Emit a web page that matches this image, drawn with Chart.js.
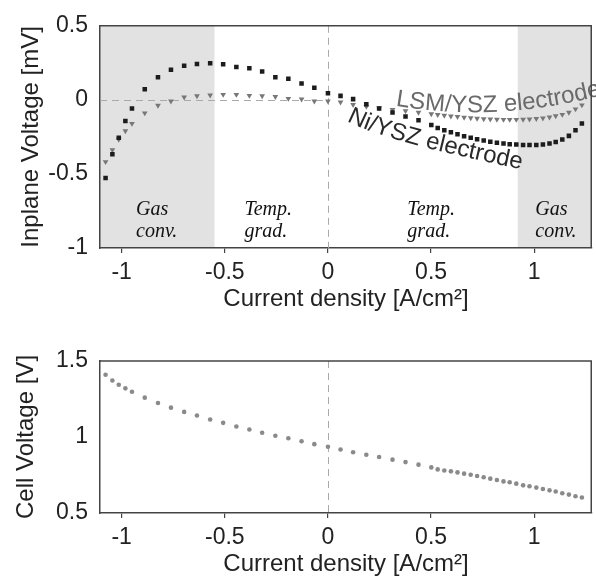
<!DOCTYPE html>
<html>
<head>
<meta charset="utf-8">
<script src="https://cdn.jsdelivr.net/npm/chart.js@4"></script>
<style>
  html, body { margin: 0; padding: 0; background: #fff; }
  #wrap { position: relative; width: 596px; height: 576px; }
  #inplane { position: absolute; left: 0; top: 0; }
  #cell { position: absolute; left: 0; top: 320px; }
</style>
</head>
<body>
<div id="wrap">
  <canvas id="inplane" width="596" height="320"></canvas>
  <canvas id="cell" width="596" height="256"></canvas>
</div>
<script>
// current density of each measured point [A/cm2]
const current = [
  -1.078, -1.045, -1.014, -0.982, -0.950, -0.888, -0.824, -0.761, -0.697, -0.635,
  -0.571, -0.508, -0.444, -0.381, -0.319, -0.255, -0.192, -0.128, -0.066, 0,
  0.061, 0.122, 0.186, 0.248, 0.313, 0.376, 0.439, 0.501,
  0.532, 0.564, 0.596, 0.628, 0.660, 0.692, 0.723, 0.755, 0.787, 0.819,
  0.851, 0.881, 0.913, 0.946, 0.977, 1.010, 1.042, 1.074, 1.104, 1.136,
  1.168, 1.200, 1.231
];

// inplane voltage, Ni/YSZ electrode [mV]
const niVoltage = [
  -0.527, -0.367, -0.256, -0.142, -0.058, 0.071, 0.153, 0.204, 0.231, 0.242,
  0.247, 0.240, 0.222, 0.213, 0.191, 0.153, 0.142, 0.111, 0.082, 0.045,
  0.027, 0.005, -0.030, -0.058, -0.085, -0.112, -0.138, -0.170,
  -0.190, -0.205, -0.218, -0.232, -0.245, -0.256, -0.266, -0.275, -0.283, -0.289,
  -0.295, -0.299, -0.302, -0.304, -0.305, -0.304, -0.301, -0.295, -0.285, -0.268,
  -0.243, -0.205, -0.160
];

// inplane voltage, LSM/YSZ electrode [mV]
const lsmVoltage = [
  -0.418, -0.338, -0.267, -0.209, -0.160, -0.089, -0.038, -0.009, 0.018, 0.027,
  0.031, 0.036, 0.036, 0.029, 0.027, 0.022, 0.009, 0.004, -0.009, -0.009,
  -0.016, -0.032, -0.045, -0.055, -0.066, -0.075, -0.085, -0.095,
  -0.100, -0.105, -0.110, -0.114, -0.118, -0.122, -0.125, -0.128, -0.130, -0.132,
  -0.133, -0.133, -0.133, -0.132, -0.130, -0.127, -0.123, -0.117, -0.109, -0.099,
  -0.085, -0.062, -0.035
];

// cell voltage [V]
const cellVoltage = [
  1.410, 1.372, 1.344, 1.320, 1.298, 1.259, 1.224, 1.193, 1.165, 1.141,
  1.115, 1.093, 1.069, 1.049, 1.028, 1.008, 0.992, 0.972, 0.953, 0.936,
  0.918, 0.900, 0.883, 0.868, 0.851, 0.835, 0.818, 0.800,
  0.787, 0.780, 0.774, 0.767, 0.759, 0.752, 0.743, 0.735, 0.726, 0.717,
  0.708, 0.702, 0.693, 0.682, 0.676, 0.667, 0.658, 0.649, 0.641, 0.630,
  0.621, 0.610, 0.602
];

const xTicks = [-1, -0.5, 0, 0.5, 1];
const inplaneTicks = [-1, -0.5, 0, 0.5];
const cellTicks = [0.5, 1, 1.5];

// gas conversion regions (shaded)
const gasBands = [[-1.105, -0.55], [0.92, 1.28]];
const regionNotes = [
  { lines: ['Gas', 'conv.'], x: -0.93 },
  { lines: ['Temp.', 'grad.'], x: -0.405 },
  { lines: ['Temp.', 'grad.'], x: 0.385 },
  { lines: ['Gas', 'conv.'], x: 1.005 },
];
const noteBaselines = [-0.78, -0.925];

// curve labels, quadratic path given as [start, control, end] in data units
const electrodeLabels = [
  { text: 'LSM/YSZ electrode', color: '#6a6a6a', path: [[0.327, -0.04], [0.817, -0.153], [1.317, 0.027]] },
  { text: 'Ni/YSZ electrode', color: '#2a2a2a', path: [[0.091, -0.14], [0.245, -0.267], [0.933, -0.467]] },
];

const FONT = '"Liberation Sans", Arial, sans-serif';
Chart.defaults.font.family = FONT;
Chart.defaults.color = '#222';

const pairs = (ys) => current.map((x, i) => ({ x, y: ys[i] }));
const fmt = (v) => String(v);

const fixTicks = (vals) => (scale) => { scale.ticks = vals.map((value) => ({ value })); };

function xScale(height, titlePad, titleLineHeight) {
  return {
    type: 'linear',
    min: -1.105,
    max: 1.28,
    afterBuildTicks: fixTicks(xTicks),
    afterFit: (s) => { s.height = height; },
    grid: { drawOnChartArea: false, drawTicks: true, tickLength: 5, color: '#444', lineWidth: 1.2 },
    border: { color: '#444', width: 1.5 },
    ticks: { font: { size: 23 }, padding: 6, callback: fmt, maxRotation: 0 },
    title: {
      display: true,
      text: 'Current density [A/cm²]',
      font: { size: 24, lineHeight: titleLineHeight },
      padding: { top: 0, bottom: titlePad },
    },
  };
}

function yScale(min, max, ticks, title, titlePad) {
  return {
    type: 'linear',
    min, max,
    afterBuildTicks: fixTicks(ticks),
    afterFit: (s) => { s.width = 100; },
    grid: { drawOnChartArea: false, drawTicks: false },
    border: { color: '#444', width: 1.5 },
    ticks: { font: { size: 23 }, padding: 12, callback: fmt },
    title: { display: true, text: title, font: { size: 24 }, padding: { top: titlePad, bottom: 0 } },
  };
}

// shaded bands drawn underneath everything
const bandsPlugin = {
  id: 'bands',
  beforeDraw(chart, args, opts) {
    if (!opts.bands) return;
    const { ctx, chartArea: a, scales: { x } } = chart;
    ctx.save();
    ctx.fillStyle = '#e2e2e2';
    opts.bands.forEach(([lo, hi]) => {
      const x0 = Math.max(x.getPixelForValue(lo), a.left);
      const x1 = Math.min(x.getPixelForValue(hi), a.right);
      ctx.fillRect(x0, a.top, x1 - x0, a.bottom - a.top);
    });
    ctx.restore();
  },
};

// dashed zero lines and frame
const framePlugin = {
  id: 'frame',
  beforeDatasetsDraw(chart, args, opts) {
    const { ctx, chartArea: a, scales: { x, y } } = chart;
    ctx.save();
    ctx.strokeStyle = '#aaa';
    ctx.lineWidth = 1;
    ctx.setLineDash([7, 5]);
    const x0 = Math.round(x.getPixelForValue(0)) + 0.5;
    ctx.beginPath();
    ctx.moveTo(x0, a.top);
    ctx.lineTo(x0, a.bottom);
    if (opts.zeroLine) {
      const y0 = Math.round(y.getPixelForValue(0)) + 0.5;
      ctx.moveTo(a.left, y0);
      ctx.lineTo(x0, y0);
    }
    ctx.stroke();
    ctx.restore();
  },
  afterDraw(chart) {
    const { ctx, chartArea: a } = chart;
    ctx.save();
    ctx.strokeStyle = '#444';
    ctx.lineWidth = 1.5;
    ctx.beginPath();
    ctx.moveTo(a.left, a.top);
    ctx.lineTo(a.right - 0.75, a.top);
    ctx.lineTo(a.right - 0.75, a.bottom);
    ctx.stroke();
    ctx.restore();
  },
};

function textOnCurve(ctx, text, p0, p1, p2) {
  const pts = [];
  const n = 300;
  let len = 0;
  let prev = null;
  for (let i = 0; i <= n; i++) {
    const t = i / n, u = 1 - t;
    const x = u * u * p0.x + 2 * u * t * p1.x + t * t * p2.x;
    const y = u * u * p0.y + 2 * u * t * p1.y + t * t * p2.y;
    if (prev) len += Math.hypot(x - prev.x, y - prev.y);
    prev = { x, y, len };
    pts.push(prev);
  }
  const at = (d) => {
    let i = pts.findIndex((p) => p.len >= d);
    if (i < 0) i = pts.length - 1;
    if (i < 1) i = 1;
    const a = pts[i - 1], b = pts[i];
    const f = (d - a.len) / ((b.len - a.len) || 1);
    return { x: a.x + (b.x - a.x) * f, y: a.y + (b.y - a.y) * f, ang: Math.atan2(b.y - a.y, b.x - a.x) };
  };
  let cur = 0;
  for (const ch of text) {
    const w = ctx.measureText(ch).width;
    const p = at(cur + w / 2);
    ctx.save();
    ctx.translate(p.x, p.y);
    ctx.rotate(p.ang);
    ctx.fillText(ch, 0, 0);
    ctx.restore();
    cur += w;
  }
}

// region notes and electrode labels
const labelsPlugin = {
  id: 'labels',
  afterDatasetsDraw(chart) {
    const { ctx, scales: { x, y } } = chart;
    const px = (p) => ({ x: x.getPixelForValue(p[0]), y: y.getPixelForValue(p[1]) });
    ctx.save();
    ctx.font = 'italic 20px "Liberation Serif", "Times New Roman", serif';
    ctx.fillStyle = '#111';
    ctx.textAlign = 'left';
    ctx.textBaseline = 'alphabetic';
    regionNotes.forEach((n) => {
      n.lines.forEach((line, i) => {
        ctx.fillText(line, x.getPixelForValue(n.x), y.getPixelForValue(noteBaselines[i]));
      });
    });
    ctx.font = '24px ' + FONT;
    ctx.textAlign = 'center';
    electrodeLabels.forEach((l) => {
      ctx.fillStyle = l.color;
      textOnCurve(ctx, l.text, px(l.path[0]), px(l.path[1]), px(l.path[2]));
    });
    ctx.restore();
  },
};

new Chart(document.getElementById('inplane'), {
  type: 'scatter',
  data: {
    datasets: [
      {
        label: 'Ni/YSZ electrode',
        data: pairs(niVoltage),
        pointStyle: 'rect',
        pointRadius: 3.2,
        backgroundColor: '#1c1c1c',
        borderWidth: 0,
      },
      {
        label: 'LSM/YSZ electrode',
        data: pairs(lsmVoltage),
        pointStyle: 'triangle',
        rotation: 180,
        pointRadius: 3.3,
        backgroundColor: '#777',
        borderWidth: 0,
      },
    ],
  },
  options: {
    responsive: false,
    animation: false,
    events: [],
    layout: { padding: { top: 21, left: 0, right: 0, bottom: 0 } },
    plugins: {
      legend: { display: false },
      tooltip: { enabled: false },
      bands: { bands: gasBands },
      frame: { zeroLine: true },
    },
    scales: {
      x: xScale(72, 6, 1.2),
      y: yScale(-1, 0.5, inplaneTicks, 'Inplane Voltage [mV]', 17),
    },
  },
  plugins: [bandsPlugin, framePlugin, labelsPlugin],
});

new Chart(document.getElementById('cell'), {
  type: 'scatter',
  data: {
    datasets: [
      {
        label: 'Cell voltage',
        data: pairs(cellVoltage),
        pointStyle: 'circle',
        pointRadius: 2.3,
        backgroundColor: '#8a8a8a',
        borderWidth: 0,
      },
    ],
  },
  options: {
    responsive: false,
    animation: false,
    events: [],
    layout: { padding: { top: 41, left: 0, right: 0, bottom: 0 } },
    plugins: {
      legend: { display: false },
      tooltip: { enabled: false },
      frame: { zeroLine: false },
    },
    scales: {
      x: xScale(63, 0, 1),
      y: yScale(0.5, 1.5, cellTicks, 'Cell Voltage [V]', 12),
    },
  },
  plugins: [framePlugin],
});
</script>
</body>
</html>
